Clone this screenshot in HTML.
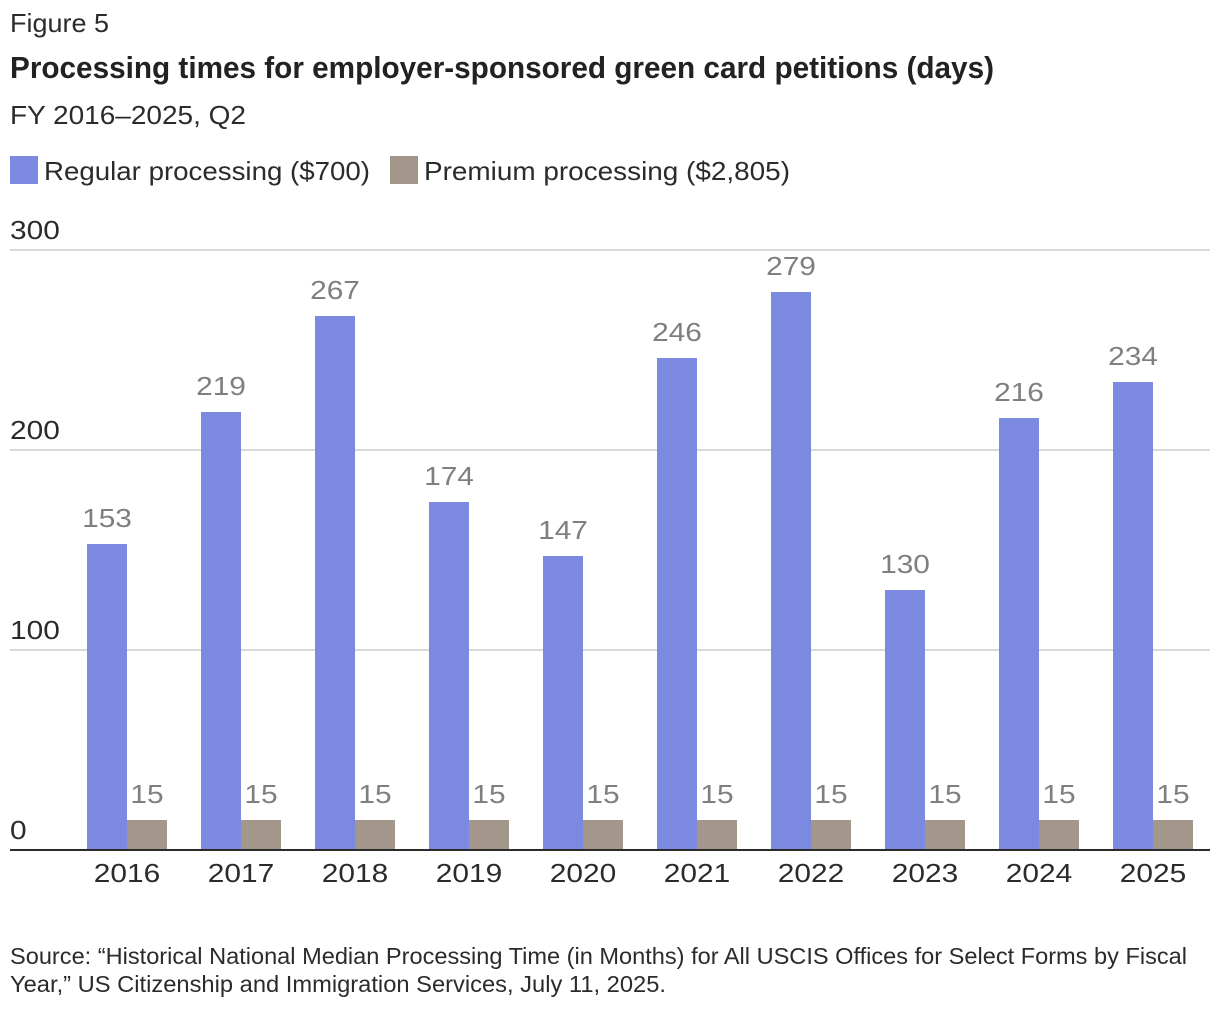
<!DOCTYPE html>
<html>
<head>
<meta charset="utf-8">
<title>Processing times for employer-sponsored green card petitions</title>
<style>
html,body{margin:0;padding:0;background:#fff;}
svg{display:block;}
text{font-family:"Liberation Sans",sans-serif;fill:#2b2b2b;}
</style>
</head>
<body>
<svg id="chart" width="1220" height="1012" viewBox="0 0 1220 1012" xmlns="http://www.w3.org/2000/svg">
  <text x="10" y="32" font-size="26" textLength="99" lengthAdjust="spacingAndGlyphs">Figure 5</text>
  <text x="10" y="78" font-size="31" font-weight="bold" style="fill:#222" textLength="984" lengthAdjust="spacingAndGlyphs">Processing times for employer-sponsored green card petitions (days)</text>
  <text x="10" y="124" font-size="26" textLength="236" lengthAdjust="spacingAndGlyphs">FY 2016–2025, Q2</text>

  <rect x="10" y="156" width="28" height="28" fill="#7b8ae0"/>
  <text x="44" y="180" font-size="26" textLength="326" lengthAdjust="spacingAndGlyphs">Regular processing ($700)</text>
  <rect x="390" y="156" width="28" height="28" fill="#a2978a"/>
  <text x="424" y="180" font-size="26" textLength="366" lengthAdjust="spacingAndGlyphs">Premium processing ($2,805)</text>

  <g id="grid"></g>
  <g id="bars"></g>
  <g id="xaxis"></g>

  <text x="10" y="964" font-size="23" textLength="1177" lengthAdjust="spacingAndGlyphs">Source: “Historical National Median Processing Time (in Months) for All USCIS Offices for Select Forms by Fiscal</text>
  <text x="10" y="992" font-size="23" textLength="656" lengthAdjust="spacingAndGlyphs">Year,” US Citizenship and Immigration Services, July 11, 2025.</text>
</svg>
<script>
const categories = ['2016','2017','2018','2019','2020','2021','2022','2023','2024','2025'];
const regularValues = [153,219,267,174,147,246,279,130,216,234];
const premiumValues = [15,15,15,15,15,15,15,15,15,15];
const yTicks = [0,100,200,300];

const NS = 'http://www.w3.org/2000/svg';
const baseY = 850, pxPerUnit = 2, firstCenter = 127, step = 114, barW = 40, digitW = 16.6;
const yScale = function (v) { return baseY - v * pxPerUnit; };
const xScale = function (i) { return firstCenter + i * step; };

function make(tag, attrs, parent, content) {
  const el = document.createElementNS(NS, tag);
  for (const k in attrs) el.setAttribute(k, attrs[k]);
  if (content !== undefined) el.textContent = content;
  parent.appendChild(el);
  return el;
}
function numberWidth(s) { return s.length * digitW; }

const grid = document.getElementById('grid');
const bars = document.getElementById('bars');
const xaxis = document.getElementById('xaxis');

yTicks.forEach(function (t) {
  const y = yScale(t);
  if (t !== 0) {
    const line = make('rect', {x: 10, y: y - 1, width: 1200, height: 2, fill: '#d9d9d9'}, grid);
    
    
  }
  const s = String(t);
  const label = make('text', {x: 10, y: y - 11, 'font-size': 26, textLength: numberWidth(s), lengthAdjust: 'spacingAndGlyphs'}, grid, s);
  
  
});

categories.forEach(function (cat, i) {
  const cx = xScale(i);
  const r = regularValues[i];
  const p = premiumValues[i];

  const rb = make('rect', {x: cx - barW, y: yScale(r), width: barW, height: baseY - yScale(r), fill: '#7b8ae0'}, bars);
  
  

  const pb = make('rect', {x: cx, y: yScale(p), width: barW, height: baseY - yScale(p), fill: '#a2978a'}, bars);
  
  

  const rs = String(r);
  const rl = make('text', {x: cx - 20, y: yScale(r) - 17, 'font-size': 26, 'text-anchor': 'middle', textLength: numberWidth(rs), lengthAdjust: 'spacingAndGlyphs', style: 'fill:#7f7f7f'}, bars, rs);
  
  

  const ps = String(p);
  const pl = make('text', {x: cx + 20, y: yScale(p) - 17, 'font-size': 26, 'text-anchor': 'middle', textLength: numberWidth(ps), lengthAdjust: 'spacingAndGlyphs', style: 'fill:#7f7f7f'}, bars, ps);
  
  

  const xl = make('text', {x: cx, y: 882, 'font-size': 26, 'text-anchor': 'middle', textLength: numberWidth(cat), lengthAdjust: 'spacingAndGlyphs'}, xaxis, cat);
  
  
});

const axisLine = make('rect', {x: 10, y: baseY - 1, width: 1200, height: 2, fill: '#2b2b2b'}, xaxis);


</script>
</body>
</html>
